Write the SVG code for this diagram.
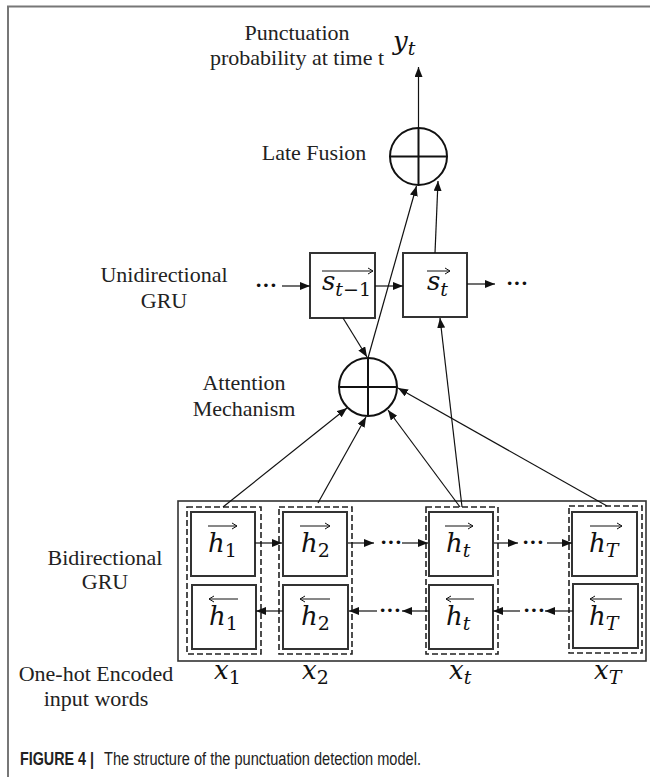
<svg xmlns="http://www.w3.org/2000/svg" width="650" height="777" viewBox="0 0 650 777">
<defs>
<marker id="ah" markerUnits="userSpaceOnUse" markerWidth="11" markerHeight="9" refX="10" refY="4" orient="auto"><path d="M0,0 L10,4 L0,8 z" fill="#111"/></marker>
</defs>
<style>
.lbl{font-family:"Liberation Serif","Times New Roman",serif;font-size:22px;fill:#222;text-anchor:middle}
.m{font-family:"DejaVu Serif",serif;font-style:italic;font-size:26px;fill:#111}
.sub{font-size:19px}
.up{font-style:normal}
.box{fill:none;stroke:#333;stroke-width:2}
.dash{fill:none;stroke:#222;stroke-width:1.6;stroke-dasharray:6 3}
.outer{fill:none;stroke:#333;stroke-width:1.6}
.con{fill:none;stroke:#111;stroke-width:1.2}
.arr{marker-end:url(#ah)}
.vec{fill:none;stroke:#111;stroke-width:1}
.dots{font-family:"Liberation Serif",serif;font-weight:bold;font-size:22px;fill:#111}
.op{fill:#fff;stroke:#111;stroke-width:2}
.opx{stroke:#111;stroke-width:2}
.frame{stroke:#777;stroke-width:2;fill:none}
.cap{font-family:"Liberation Sans",Arial,sans-serif;font-size:18px;fill:#222}
</style>
<rect width="650" height="777" fill="#fff"/>
<path class="frame" d="M8,777 V6.5 H650"/>

<g id="labels">
<text class="lbl" x="297" y="40">Punctuation</text>
<text class="lbl" x="297" y="65">probability at time t</text>
<text class="lbl" x="314" y="160">Late Fusion</text>
<text class="lbl" x="164" y="282">Unidirectional</text>
<text class="lbl" x="164" y="308">GRU</text>
<text class="lbl" x="244" y="390">Attention</text>
<text class="lbl" x="244" y="416">Mechanism</text>
<text class="lbl" x="105" y="565">Bidirectional</text>
<text class="lbl" x="105" y="589">GRU</text>
<text class="lbl" x="96" y="681">One-hot Encoded</text>
<text class="lbl" x="96" y="706">input words</text>
</g>

<g id="output-yt">
<text class="m" x="393" y="50">y<tspan class="sub" dy="5">t</tspan></text>
</g>

<g id="late-fusion">
<circle class="op" cx="418.5" cy="156.5" r="28.5"/>
<path class="opx" d="M418.5,128 V185 M390,156.5 H447"/>
</g>

<g id="attention">
<circle class="op" cx="368" cy="387" r="29"/>
<path class="opx" d="M368,358 V416 M339,387 H397"/>
</g>

<g id="s-prev">
<rect class="box" x="310" y="253" width="65" height="65"/>
<text class="m" x="322" y="290">s<tspan class="sub" dy="6">t</tspan><tspan class="sub up">−1</tspan></text>
<path class="vec" d="M322,271 H373 M368,268 L373,271 L368,274"/>
</g>

<g id="s-t">
<rect class="box" x="403" y="253" width="64" height="64"/>
<text class="m" x="427" y="290">s<tspan class="sub" dy="6">t</tspan></text>
<path class="vec" d="M427,271 H450 M445,268 L450,271 L445,274"/>
</g>

<g id="bigru">
<rect class="outer" x="178" y="501" width="468" height="160"/>
</g>

<g id="col-1">
<rect class="dash" x="187" y="507" width="74" height="147"/>
<rect class="box" x="191" y="512" width="64" height="64"/>
<rect class="box" x="192" y="585" width="64" height="64"/>
<text class="m" x="208" y="552">h<tspan class="sub up" dy="5">1</tspan></text>
<path class="vec" d="M208,526 H237 M232,523 L237,526 L232,529"/>
<text class="m" x="209" y="625">h<tspan class="sub up" dy="5">1</tspan></text>
<path class="vec" d="M238,599 H209 M214,596 L209,599 L214,602"/>
<text class="m" x="214" y="679">x<tspan class="sub up" dy="5">1</tspan></text>
</g>

<g id="col-2">
<rect class="dash" x="279" y="507" width="73" height="147"/>
<rect class="box" x="283" y="512" width="64" height="64"/>
<rect class="box" x="283" y="585" width="65" height="64"/>
<text class="m" x="301" y="552">h<tspan class="sub up" dy="5">2</tspan></text>
<path class="vec" d="M300,526 H330 M325,523 L330,526 L325,529"/>
<text class="m" x="301" y="625">h<tspan class="sub up" dy="5">2</tspan></text>
<path class="vec" d="M330,599 H300 M305,596 L300,599 L305,602"/>
<text class="m" x="302" y="679">x<tspan class="sub up" dy="5">2</tspan></text>
</g>

<g id="col-t">
<rect class="dash" x="426" y="507" width="72" height="147"/>
<rect class="box" x="429" y="512" width="64" height="64"/>
<rect class="box" x="429" y="585" width="64" height="64"/>
<text class="m" x="446" y="552">h<tspan class="sub" dy="5">t</tspan></text>
<path class="vec" d="M445,526 H473 M468,523 L473,526 L468,529"/>
<text class="m" x="446" y="625">h<tspan class="sub" dy="5">t</tspan></text>
<path class="vec" d="M474,599 H446 M451,596 L446,599 L451,602"/>
<text class="m" x="449" y="679">x<tspan class="sub" dy="5">t</tspan></text>
</g>

<g id="col-T">
<rect class="dash" x="569" y="506" width="73" height="147"/>
<rect class="box" x="572" y="512" width="65" height="64"/>
<rect class="box" x="573" y="584" width="65" height="64"/>
<text class="m" x="589" y="552">h<tspan class="sub" dy="5">T</tspan></text>
<path class="vec" d="M590,526 H622 M617,523 L622,526 L617,529"/>
<text class="m" x="589" y="625">h<tspan class="sub" dy="5">T</tspan></text>
<path class="vec" d="M622,599 H590 M595,596 L590,599 L595,602"/>
<text class="m" x="594" y="679">x<tspan class="sub" dy="5">T</tspan></text>
</g>

<g id="connectors">
<line class="con arr" x1="418.5" y1="128" x2="418.5" y2="67"/>
<line class="con arr" x1="368" y1="358" x2="416.5" y2="186"/>
<line class="con arr" x1="435" y1="253" x2="438" y2="181"/>
<line class="con arr" x1="282" y1="286" x2="310" y2="286"/>
<line class="con arr" x1="375" y1="286" x2="403" y2="286"/>
<line class="con arr" x1="467" y1="284" x2="495" y2="284"/>
<line class="con arr" x1="343" y1="318" x2="367" y2="357"/>
<line class="con arr" x1="462" y1="507" x2="440" y2="318"/>
<line class="con arr" x1="223" y1="507" x2="347" y2="408"/>
<line class="con arr" x1="318" y1="503" x2="366" y2="417"/>
<line class="con arr" x1="460" y1="507" x2="388" y2="410"/>
<line class="con arr" x1="607" y1="506" x2="398" y2="388"/>
<line class="con arr" x1="255" y1="543" x2="282" y2="543"/>
<line class="con arr" x1="348" y1="543" x2="374" y2="543"/>
<line class="con arr" x1="402" y1="543" x2="428" y2="543"/>
<line class="con arr" x1="494" y1="543" x2="518" y2="543"/>
<line class="con arr" x1="547" y1="543" x2="572" y2="543"/>
<line class="con arr" x1="283" y1="611" x2="256" y2="611"/>
<line class="con arr" x1="377" y1="611" x2="349" y2="611"/>
<line class="con arr" x1="429" y1="611" x2="402" y2="611"/>
<line class="con arr" x1="520" y1="611" x2="493" y2="611"/>
<line class="con arr" x1="573" y1="611" x2="545" y2="611"/>
<text class="dots" x="255" y="292">···</text>
<text class="dots" x="506" y="290">···</text>
<text class="dots" x="380" y="549">···</text>
<text class="dots" x="522" y="549">···</text>
<text class="dots" x="379" y="617">···</text>
<text class="dots" x="523" y="617">···</text>
</g>

<g id="caption">
<text class="cap" x="20" y="765" font-weight="bold" textLength="74" lengthAdjust="spacingAndGlyphs">FIGURE 4 |</text>
<text class="cap" x="104" y="765" textLength="317" lengthAdjust="spacingAndGlyphs">The structure of the punctuation detection model.</text>
</g>
</svg>
